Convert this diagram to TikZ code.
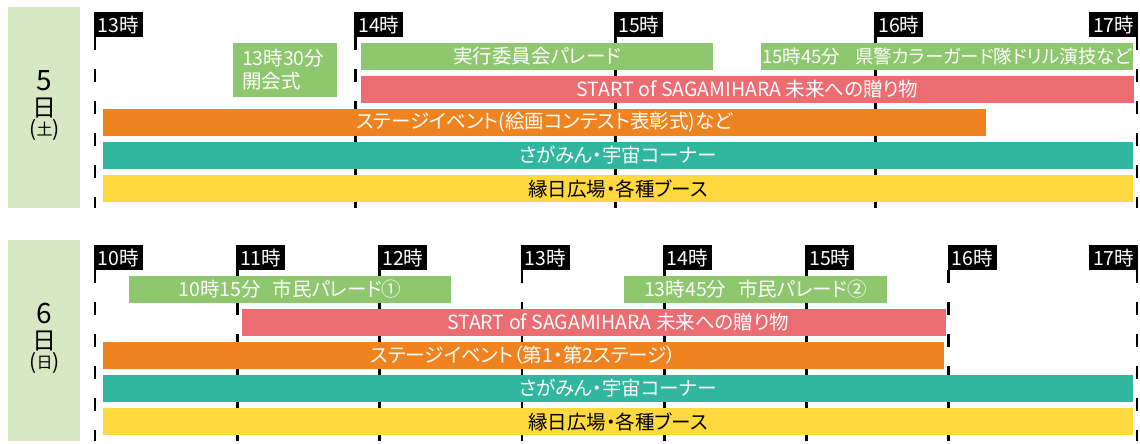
\documentclass[tikz,border=0pt]{standalone}
\usepackage{fontspec}
\setmainfont{Noto Sans CJK JP}[RawFeature={+palt}]
\usepackage{xcolor}
\usepackage{tikz}
\definecolor{dayback}{HTML}{D7E8C5}
\definecolor{paradegreen}{HTML}{8EC76E}
\definecolor{giftred}{HTML}{EB6D72}
\definecolor{stageorange}{HTML}{EF8320}
\definecolor{spaceteal}{HTML}{31B69F}
\definecolor{boothyellow}{HTML}{FFD93E}

\begin{document}
\begin{tikzpicture}[x=1pt, y=-1pt,
  daybox/.style={fill=dayback, minimum width=72pt, minimum height=201pt, inner sep=0pt},
  daynum/.style={font=\fontsize{28}{28}\selectfont, inner sep=0pt},
  dayname/.style={font=\fontsize{24}{24}\selectfont, inner sep=0pt},
  dayweek/.style={font=\fontsize{21}{21}\selectfont, inner sep=0pt},
  hourtag/.style={fill=black, text=white, font=\fontsize{19.5}{19.5}\selectfont, inner xsep=4pt, inner ysep=0pt, minimum height=25pt, anchor=north west},
  hourline/.style={black, line width=2.7pt, dash pattern=on 13pt off 19pt},
  bar/.style={minimum height=27pt, inner sep=0pt, text=white, font=\fontsize{19.5}{19.5}\selectfont}]
  \useasboundingbox (0,0) rectangle (1140,444);
  \node[daybox] (satbox) at (44,107.5) {};
  \node[daynum] (satnum) at (44.5,81) {5};
  \node[dayname] (satday) at (44.5,108) {日};
  \node[dayweek] (satweek) at (44.5,130) {(\raisebox{1pt}{\fontsize{16}{16}\selectfont 土})};
  \node[hourtag] (sat13) at (93.5,12) {13時};
  \node[hourtag] (sat14) at (354,12) {14時};
  \node[hourtag] (sat15) at (614,12) {15時};
  \node[hourtag] (sat16) at (874,12) {16時};
  \node[hourtag, anchor=north east] (sat17) at (1138.5,12) {17時};
  \draw[hourline] (95,37) -- (95,208);
  \draw[hourline] (355.5,37) -- (355.5,208);
  \draw[hourline] (615.5,37) -- (615.5,208);
  \draw[hourline] (875.5,37) -- (875.5,208);
  \draw[hourline] (1137,37) -- (1137,208);
  \node[bar, fill=paradegreen, minimum width=104pt, minimum height=54pt, text width=86pt, align=left, font=\fontsize{19.5}{23}\selectfont] (opening) at (285,70) {13時30分\\開会式};
  \node[bar, fill=paradegreen, minimum width=352pt] (parade) at (537,56.5) {実行委員会パレード};
  \node[bar, fill=paradegreen, minimum width=372pt, font=\fontsize{18.5}{18.5}\selectfont] (police) at (947,56.5) {15時45分\hspace{0.8em}県警カラーガード隊ドリル演技など};
  \node[bar, fill=giftred, minimum width=773pt] (gift) at (747.5,89.5) {START of SAGAMIHARA 未来への贈り物};
  \node[bar, fill=stageorange, minimum width=883pt] (stage) at (544.5,122.5) {ステージイベント(絵画コンテスト表彰式)など};
  \node[bar, fill=spaceteal, minimum width=1030pt] (space) at (618,155.5) {さがみん・宇宙コーナー};
  \node[bar, fill=boothyellow, text=black, minimum width=1030pt] (booth) at (618,188.5) {縁日広場・各種ブース};
  \node[daybox] (sunbox) at (44,340.5) {};
  \node[daynum] (sunnum) at (44.5,314) {6};
  \node[dayname] (sunday) at (44.5,341) {日};
  \node[dayweek] (sunweek) at (44.5,363) {(\raisebox{1pt}{\fontsize{16}{16}\selectfont 日})};
  \node[hourtag] (sun10) at (93.5,245) {10時};
  \node[hourtag] (sun11) at (235.8,245) {11時};
  \node[hourtag] (sun12) at (378.1,245) {12時};
  \node[hourtag] (sun13) at (520.4,245) {13時};
  \node[hourtag] (sun14) at (662.7,245) {14時};
  \node[hourtag] (sun15) at (805,245) {15時};
  \node[hourtag] (sun16) at (947.3,245) {16時};
  \node[hourtag, anchor=north east] (sun17) at (1138.5,245) {17時};
  \draw[hourline] (95,270) -- (95,441);
  \draw[hourline] (237.3,270) -- (237.3,441);
  \draw[hourline] (379.6,270) -- (379.6,441);
  \draw[hourline] (521.9,270) -- (521.9,441);
  \draw[hourline] (664.2,270) -- (664.2,441);
  \draw[hourline] (806.5,270) -- (806.5,441);
  \draw[hourline] (948.8,270) -- (948.8,441);
  \draw[hourline] (1137,270) -- (1137,441);
  \node[bar, fill=paradegreen, minimum width=322pt] (paradeone) at (290,289.5) {10時15分\hspace{0.6em}市民パレード①};
  \node[bar, fill=paradegreen, minimum width=263pt] (paradetwo) at (755.5,289.5) {13時45分\hspace{0.6em}市民パレード②};
  \node[bar, fill=giftred, minimum width=704pt] (giftsun) at (594,322.5) {\hspace{48pt}START of SAGAMIHARA 未来への贈り物};
  \node[bar, fill=stageorange, minimum width=841pt] (stagesun) at (523.5,355.5) {ステージイベント（第1・第2ステージ）};
  \node[bar, fill=spaceteal, minimum width=1030pt] (spacesun) at (618,388.5) {さがみん・宇宙コーナー};
  \node[bar, fill=boothyellow, text=black, minimum width=1030pt] (boothsun) at (618,421.5) {縁日広場・各種ブース};
\end{tikzpicture}
\end{document}
